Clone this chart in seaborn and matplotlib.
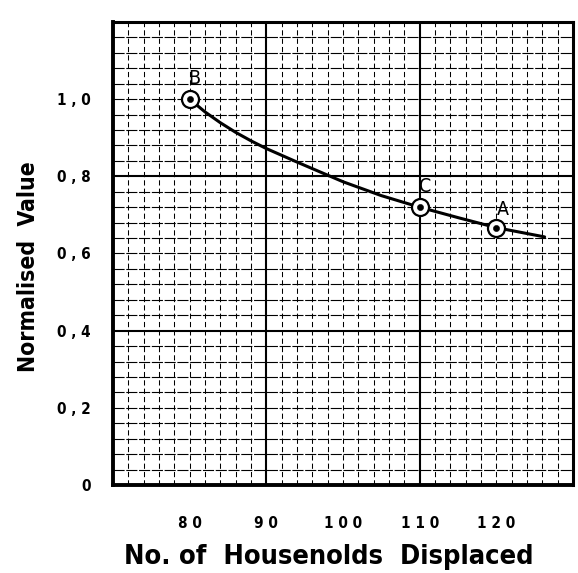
import numpy as np
import pandas as pd
import matplotlib
matplotlib.use("Agg")
import matplotlib.pyplot as plt
import seaborn as sns

# curve
curve_x = [80, 82, 84, 86, 88, 90, 94, 100, 105, 110, 115, 120, 126.3]
curve_y = [1.0, 0.967, 0.939, 0.914, 0.892, 0.872, 0.837, 0.786, 0.750, 0.72, 0.693, 0.667, 0.643]

# labelled schemes
point_names = ["B", "C", "A"]
point_x = [80, 110, 120]
point_y = [1.0, 0.72, 0.667]

x_ticks = [80, 90, 100, 110, 120]
x_tick_labels = ["8 0", "9 0", "1 0 0", "1 1 0", "1 2 0"]
y_ticks = [0, 0.2, 0.4, 0.6, 0.8, 1.0]
y_tick_labels = ["0", "0 , 2", "0 , 4", "0 , 6", "0 , 8", "1 , 0"]

sns.set_style("white")
plt.rcParams['font.family'] = ['DejaVu Sans']
plt.rcParams['text.color'] = 'black'
plt.rcParams['xtick.color'] = 'black'
plt.rcParams['ytick.color'] = 'black'
plt.rcParams['axes.labelcolor'] = 'black'

fig = plt.figure(figsize=(5.78, 5.73), dpi=100)
ax = fig.add_axes([0.1955, 0.1536, 0.7958, 0.808])

ax.set_xlim(70, 130)
ax.set_ylim(0, 1.2)

# graph paper: thin dashed cells, heavier lines every 10 cells
for gx in np.arange(72, 130, 2):
    heavy = (gx - 70) % 20 == 0
    ax.axvline(gx, color="black", lw=1.5 if heavy else 0.75,
               ls="-" if heavy else (0, (5, 3)), zorder=1)
for gy in np.arange(0.04, 1.2, 0.04):
    heavy = abs(gy / 0.4 - round(gy / 0.4)) < 1e-6
    ax.axhline(gy, color="black", lw=1.5 if heavy else 0.8,
               ls="-" if heavy else (0, (10, 1.5)), zorder=1)

df = pd.DataFrame({"x": curve_x, "y": curve_y})
sns.lineplot(data=df, x="x", y="y", ax=ax, color="black", lw=2.2, zorder=3)

pts = pd.DataFrame({"x": point_x, "y": point_y, "name": point_names})
sns.scatterplot(data=pts, x="x", y="y", ax=ax, s=150, facecolor="white",
                edgecolor="black", linewidth=1.6, zorder=4)
sns.scatterplot(data=pts, x="x", y="y", ax=ax, s=20, color="black",
                edgecolor="black", zorder=5)

offsets = {"B": (3, 8), "C": (4, 8), "A": (5, 6)}
for _, r in pts.iterrows():
    ax.annotate(r["name"], (r["x"], r["y"]), xytext=offsets[r["name"]],
                textcoords="offset points", ha="center", va="bottom",
                fontsize=14, fontweight="medium", fontstretch="condensed",
                color="black")

ax.set_xticks(x_ticks)
ax.set_xticklabels(x_tick_labels, fontsize=11, fontweight="bold", fontstretch="condensed")
ax.set_yticks(y_ticks)
ax.set_yticklabels(y_tick_labels, fontsize=11, fontweight="bold", fontstretch="condensed")
ax.tick_params(axis="x", length=0, pad=22)
ax.tick_params(axis="y", length=0, pad=16)

ax.set_xlabel("No. of  Housenolds  Displaced", fontsize=19.5, fontweight="bold",
              fontstretch="condensed")
ax.set_ylabel("Normalised  Value", fontsize=16.5, fontweight="bold",
              fontstretch="condensed")
# label centres as placed on the original sheet
ax.xaxis.set_label_coords(0.468, -0.128)
ax.yaxis.set_label_coords(-0.158, 0.472)

for s in ax.spines.values():
    s.set_visible(True)
    s.set_color("black")
ax.spines["left"].set_linewidth(2.8)
ax.spines["bottom"].set_linewidth(2.8)
ax.spines["top"].set_linewidth(2.2)
ax.spines["right"].set_linewidth(2.2)

fig.savefig("out.png", dpi=100)
